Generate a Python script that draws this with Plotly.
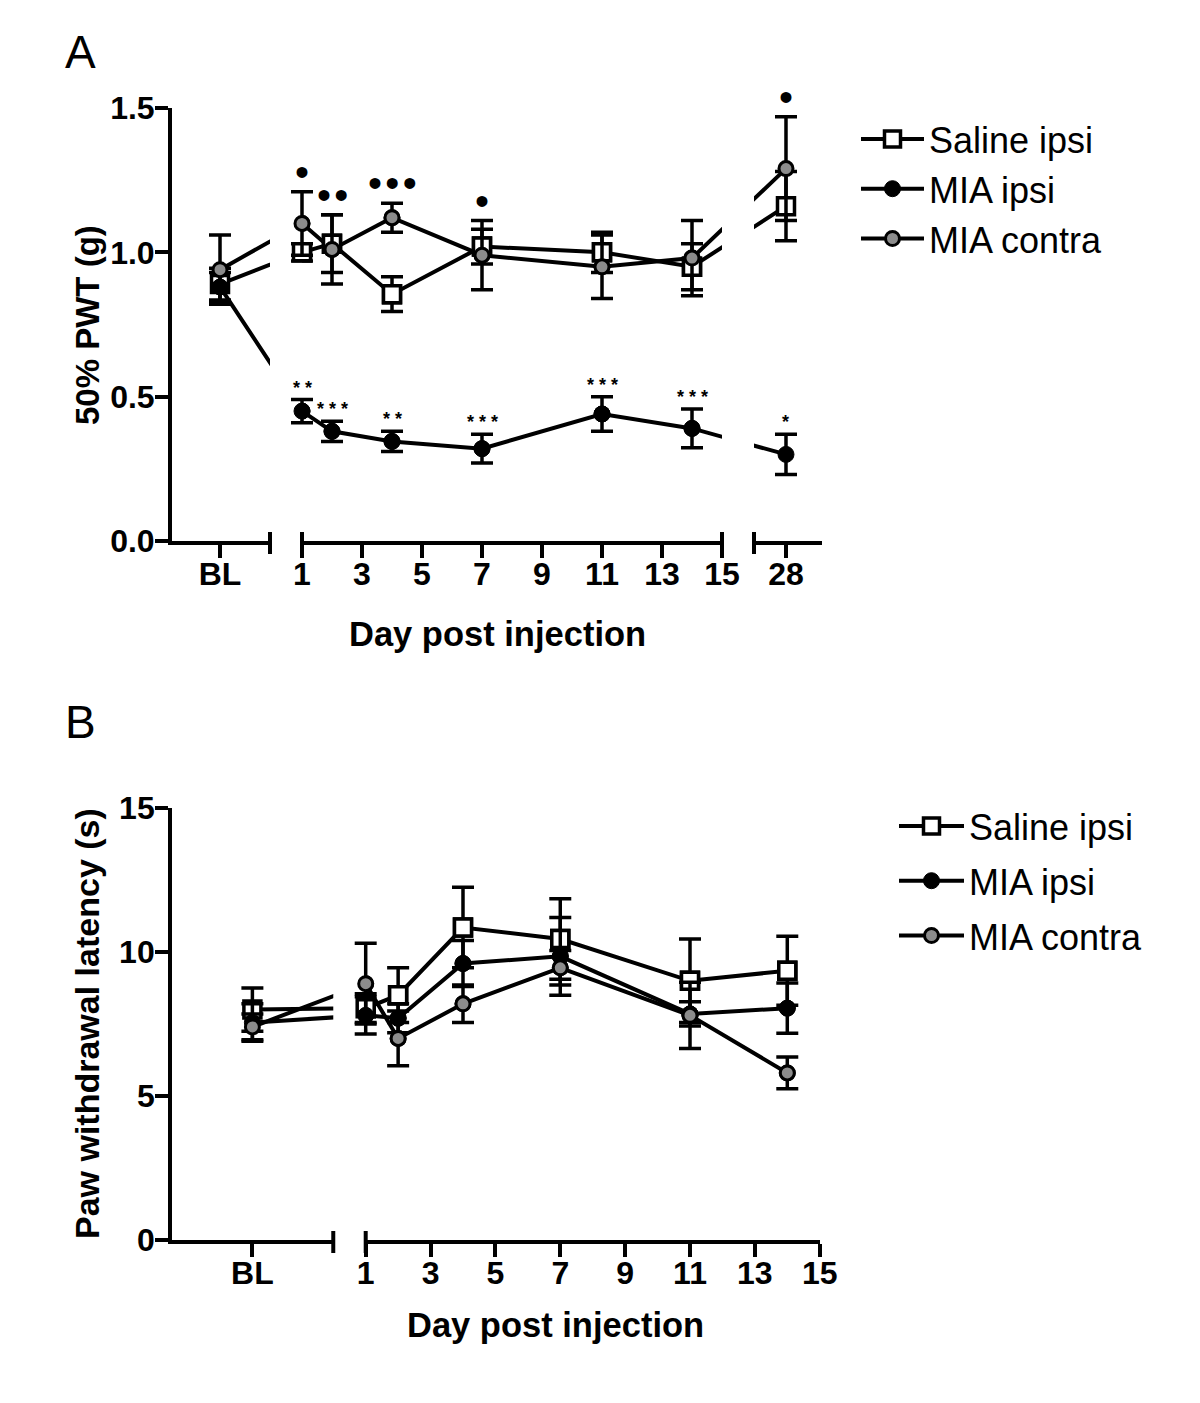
import plotly.graph_objects as go

W, H = 1200, 1403
FONT = "Liberation Sans, Arial, Helvetica, sans-serif"

# ---------------- data: panel A (50% PWT, g) ----------------
days_A = ["BL", 1, 2, 4, 7, 11, 14, 28]
saline_ipsi_A = [0.89, 1.00, 1.03, 0.855, 1.02, 1.00, 0.95, 1.16]
saline_ipsi_A_err = [0.055, 0.03, 0.10, 0.06, 0.06, 0.07, 0.08, 0.12]
mia_ipsi_A = [0.88, 0.45, 0.38, 0.345, 0.32, 0.44, 0.39, 0.30]
mia_ipsi_A_err = [0.05, 0.04, 0.035, 0.035, 0.05, 0.06, 0.067, 0.07]
mia_contra_A = [0.94, 1.10, 1.01, 1.12, 0.99, 0.95, 0.98, 1.29]
mia_contra_A_err = [0.12, 0.11, 0.12, 0.05, 0.12, 0.11, 0.13, 0.18]
sig_ipsi_A = ["", "**", "***", "**", "***", "***", "***", "*"]
sig_contra_A = ["", "•", "••", "•••", "•", "", "", "•"]

# ---------------- data: panel B (paw withdrawal latency, s) ----------------
days_B = ["BL", 1, 2, 4, 7, 11, 14]
saline_ipsi_B = [8.0, 8.05, 8.5, 10.85, 10.45, 9.0, 9.35]
saline_ipsi_B_err = [0.75, 0.5, 0.95, 1.4, 1.4, 1.45, 1.2]
mia_ipsi_B = [7.55, 7.8, 7.7, 9.6, 9.85, 7.85, 8.05]
mia_ipsi_B_err = [0.65, 0.65, 0.5, 0.8, 1.35, 0.42, 0.87]
mia_contra_B = [7.4, 8.9, 7.0, 8.2, 9.45, 7.8, 5.8]
mia_contra_B_err = [0.45, 1.4, 0.95, 0.65, 0.6, 1.15, 0.55]

series_names = ["Saline ipsi", "MIA ipsi", "MIA contra"]
day_ticks = [1, 3, 5, 7, 9, 11, 13, 15]

# ---------------- styles ----------------
MARKERS = [
    dict(symbol="square", size=17, color="white", line=dict(color="black", width=3.5)),
    dict(symbol="circle", size=16, color="black", line=dict(color="black", width=1)),
    dict(symbol="circle", size=14, color="#8c8c8c", line=dict(color="black", width=3)),
]
LINE_W = 4
AX_W = 4

# broken-axis geometry: one x axis per segment on a common position scale,
# plus an invisible full-width axis that carries markers / error bars
PANELS = [
    dict(days=days_A,
         series=[(saline_ipsi_A, saline_ipsi_A_err), (mia_ipsi_A, mia_ipsi_A_err),
                 (mia_contra_A, mia_contra_A_err)],
         xaxes=["x", "x2", "x3"], overlay="x6", yaxis="y", legend="legend",
         origin_px=302, px_per_u=30.0,
         segs=[(-3.333, -0.067), (1, 15), (16.067, 18.333)],
         special_pos={"BL": -1.733, 28: 17.133},
         seg_ticks=[["BL"], day_ticks, [28]],
         y_px=(541, 108), y_range=[0, 1.5], y_ticks=[0, 0.5, 1.0, 1.5], y_fmt=".1f",
         bars=[(0, 1), (1, 0), (1, 1), (2, 0)]),
    dict(days=days_B,
         series=[(saline_ipsi_B, saline_ipsi_B_err), (mia_ipsi_B, mia_ipsi_B_err),
                 (mia_contra_B, mia_contra_B_err)],
         xaxes=["x4", "x5"], overlay="x7", yaxis="y2", legend="legend2",
         origin_px=365.7, px_per_u=32.43,
         segs=[(-4.97, 0.0), (1, 15)],
         special_pos={"BL": -2.494},
         seg_ticks=[["BL"], day_ticks],
         y_px=(1240, 808), y_range=[0, 15], y_ticks=[0, 5, 10, 15], y_fmt="d",
         bars=[(0, 1), (1, 0)]),
]


def pos(p, d):
    return p["special_pos"].get(d, d)


def seg_of(p, u):
    for k, (a, b) in enumerate(p["segs"]):
        if a - 1e-6 <= u <= b + 1e-6:
            return k
    return None


def axkey(ax):
    return ("xaxis" if ax[0] == "x" else "yaxis") + ax[1:]


fig = go.Figure()
layout_axes = {}
shapes = []
annotations = []
overlay_traces = []

for pi, p in enumerate(PANELS):
    xs = [pos(p, d) for d in p["days"]]
    ydom = [1 - p["y_px"][0] / H, 1 - p["y_px"][1] / H]

    def dom(u0, u1):
        return [(p["origin_px"] + (u0 - 1) * p["px_per_u"]) / W,
                (p["origin_px"] + (u1 - 1) * p["px_per_u"]) / W]

    for k, ax in enumerate(p["xaxes"]):
        u0, u1 = p["segs"][k]
        tv = [pos(p, t) for t in p["seg_ticks"][k]]
        tt = [str(t) for t in p["seg_ticks"][k]]
        layout_axes[axkey(ax)] = dict(
            domain=dom(u0, u1), range=[u0, u1], anchor=p["yaxis"],
            showline=True, linecolor="black", linewidth=AX_W,
            ticks="outside", ticklen=13, tickwidth=AX_W, tickcolor="black",
            tickmode="array", tickvals=tv, ticktext=tt, ticklabelstandoff=-11,
            tickfont=dict(family=FONT, size=32, color="black", weight="bold"),
            showgrid=False, zeroline=False, fixedrange=True, automargin=False,
        )
    u_first, u_last = p["segs"][0][0], p["segs"][-1][1]
    layout_axes[axkey(p["overlay"])] = dict(
        domain=dom(u_first, u_last), range=[u_first, u_last], anchor=p["yaxis"],
        visible=False, showgrid=False, zeroline=False, fixedrange=True, automargin=False)
    layout_axes[axkey(p["yaxis"])] = dict(
        domain=ydom, range=p["y_range"], anchor=p["xaxes"][0],
        showline=True, linecolor="black", linewidth=AX_W,
        ticks="outside", ticklen=13, tickwidth=AX_W, tickcolor="black",
        tickmode="array", tickvals=p["y_ticks"], tickformat=p["y_fmt"],
        ticklabelstandoff=-6,
        tickfont=dict(family=FONT, size=32, color="black", weight="bold"),
        showgrid=False, zeroline=False, fixedrange=True, automargin=False,
    )
    # break bars at segment ends
    for k, end in p["bars"]:
        ax = p["xaxes"][k]
        shapes.append(dict(type="line", xref=ax + " domain", x0=end, x1=end,
                           yref="paper", ysizemode="pixel", yanchor=ydom[0],
                           y0=-13, y1=9, line=dict(color="black", width=AX_W)))
    # connecting lines, clipped to each segment -> gaps at the breaks
    for si, (vals, errs) in enumerate(p["series"]):
        for k, ax in enumerate(p["xaxes"]):
            show = (k == 1)
            fig.add_trace(go.Scatter(
                x=xs, y=vals, mode="lines+markers" if show else "lines",
                line=dict(color="black", width=LINE_W), marker=MARKERS[si],
                name=series_names[si], showlegend=show, legend=p["legend"],
                legendgroup=f"{pi}-{si}",
                xaxis=ax, yaxis=p["yaxis"], hoverinfo="skip"))
    # markers + error bars on the full-width overlay axis (never cut at breaks)
    for si, (vals, errs) in enumerate(p["series"]):
        overlay_traces.append(go.Scatter(
            x=xs, y=vals,
            error_y=dict(type="data", array=errs, color="black", thickness=3.5, width=11),
            mode="markers", marker=MARKERS[si], cliponaxis=False,
            name=series_names[si], showlegend=False,
            xaxis=p["overlay"], yaxis=p["yaxis"]))

for t in overlay_traces:
    fig.add_trace(t)

# significance marks (panel A)
pA = PANELS[0]
xsA = [pos(pA, d) for d in days_A]
for i, txt in enumerate(sig_ipsi_A):
    if txt:
        annotations.append(dict(
            x=xsA[i], y=mia_ipsi_A[i] + mia_ipsi_A_err[i], xref=pA["overlay"], yref="y",
            text=" ".join(txt), showarrow=False, yanchor="middle", yshift=12,
            font=dict(family=FONT, size=18, color="black", weight="bold")))
for i, txt in enumerate(sig_contra_A):
    if txt:
        top = max(mia_contra_A[i] + mia_contra_A_err[i], saline_ipsi_A[i] + saline_ipsi_A_err[i])
        annotations.append(dict(
            x=xsA[i], y=top, xref=pA["overlay"], yref="y",
            text="\u200a".join(txt), showarrow=False, yanchor="middle", yshift=20,
            font=dict(family=FONT, size=40, color="black")))


def paper_text(text, xpx, ypx, size, bold=True, angle=0):
    annotations.append(dict(
        x=xpx / W, y=1 - ypx / H, xref="paper", yref="paper", text=text,
        showarrow=False, xanchor="center", yanchor="middle", textangle=angle,
        font=dict(family=FONT, size=size, color="black", weight="bold" if bold else "normal")))


paper_text("A", 80, 52, 46, bold=False)
paper_text("B", 80, 722, 46, bold=False)
paper_text("Day post injection", 497, 634, 34.5)
paper_text("Day post injection", 555, 1325, 34.5)
paper_text("50% PWT (g)", 87, 325, 33, angle=-90)
paper_text("Paw withdrawal latency (s)", 87, 1024, 34, angle=-90)

legend_style = dict(font=dict(family=FONT, size=36, color="black"),
                    bgcolor="rgba(0,0,0,0)", borderwidth=0,
                    xanchor="left", yanchor="top")

fig.update_layout(
    width=W, height=H,
    margin=dict(l=0, r=0, t=0, b=0, pad=0, autoexpand=False),
    paper_bgcolor="white", plot_bgcolor="rgba(0,0,0,0)",
    showlegend=True,
    legend=dict(x=856 / W, y=1 - 109 / H, itemwidth=63, tracegroupgap=0, **legend_style),
    legend2=dict(x=894 / W, y=1 - 796 / H, itemwidth=65, tracegroupgap=5, **legend_style),
    shapes=shapes, annotations=annotations,
    **layout_axes,
)

fig.write_html(
    "out.html",
    config={"displayModeBar": False},
    post_script="document.body.style.margin='0';document.body.style.padding='0';"
                "document.documentElement.style.overflow='hidden';",
)
